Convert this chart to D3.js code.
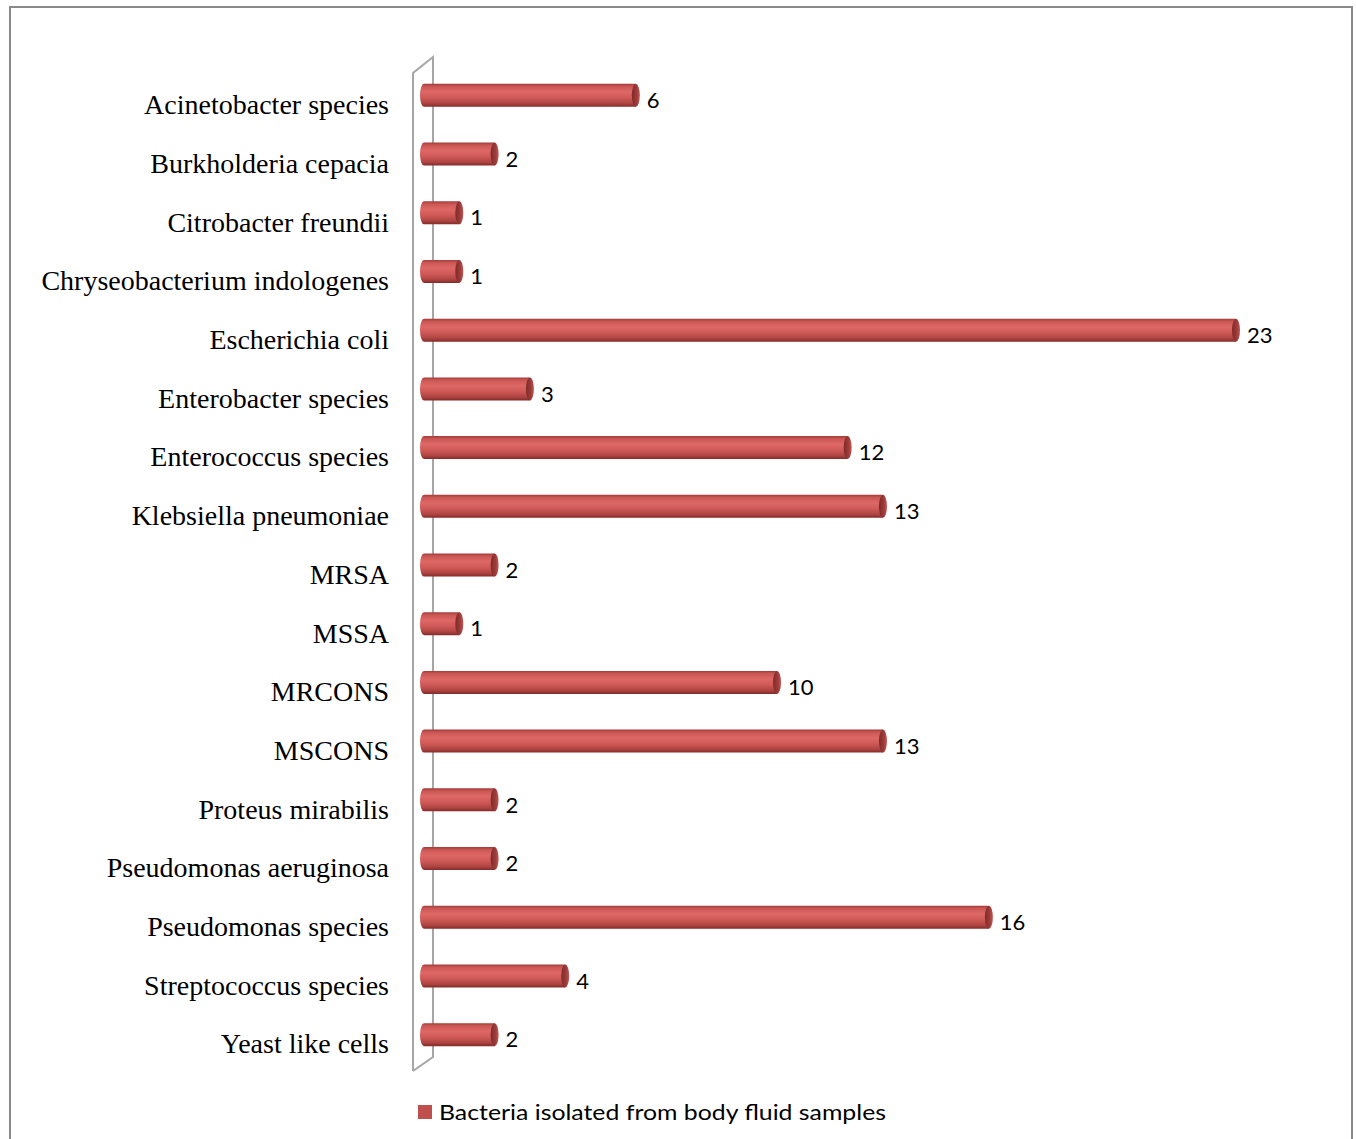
<!DOCTYPE html>
<html><head><meta charset="utf-8">
<script src="https://cdn.jsdelivr.net/npm/d3@7"></script>
<style>body{margin:0;background:#fff}svg{display:block}</style>
</head><body>
<script>
const categories = ["Acinetobacter species","Burkholderia cepacia","Citrobacter freundii","Chryseobacterium indologenes","Escherichia coli","Enterobacter species","Enterococcus species","Klebsiella pneumoniae","MRSA","MSSA","MRCONS","MSCONS","Proteus mirabilis","Pseudomonas aeruginosa","Pseudomonas species","Streptococcus species","Yeast like cells"];
const values = [6,2,1,1,23,3,12,13,2,1,10,13,2,2,16,4,2];
const seriesName = "Bacteria isolated from body fluid samples";

const W = 1356, H = 1139;
const svg = d3.select("body").append("svg").attr("width", W).attr("height", H);

// outer frame
svg.append("rect").attr("x",10).attr("y",7).attr("width",1342).attr("height",1150)
  .attr("fill","none").attr("stroke","#8a8a8a").attr("stroke-width",2);

const x = d3.scaleLinear().domain([0, 23]).range([424, 1236]);
const y = d3.scaleBand().domain(categories).range([66, 1064]).paddingInner(0.6).paddingOuter(0.3);

const defs = svg.append("defs");
const g = defs.append("linearGradient").attr("id","barGrad").attr("x1",0).attr("y1",0).attr("x2",0).attr("y2",1);
[[0,"#a23c3a"],[0.12,"#cb5754"],[0.35,"#dd6865"],[0.6,"#d05a57"],[0.85,"#ae4442"],[1,"#832b29"]]
  .forEach(([o,c])=>g.append("stop").attr("offset",o).attr("stop-color",c));
const gc = defs.append("linearGradient").attr("id","capGrad").attr("x1",0).attr("y1",0).attr("x2",1).attr("y2",0);
[[0,"#7e2a28"],[0.6,"#9c3c3a"],[1,"#c35653"]].forEach(([o,c])=>gc.append("stop").attr("offset",o).attr("stop-color",c));

// 3D wall (axis)
const wall = svg.append("g").attr("fill","none").attr("stroke","#a6a6a6").attr("stroke-width",2);
wall.append("path").attr("d", `M413,1071 L413,73 L433,57 L433,1057 L413,1071`);

// bars
const bh = 23;
const bars = svg.append("g");
categories.forEach((c,i)=>{
  const cy = y(c) + y.bandwidth()/2;
  const x0 = x(0) - 4, x1 = x(values[i]);
  const gr = bars.append("g");
  gr.append("path")
    .attr("d", `M${x0+4},${cy-bh/2} L${x1},${cy-bh/2} L${x1},${cy+bh/2} L${x0+4},${cy+bh/2} A4,${bh/2} 0 0 1 ${x0+4},${cy-bh/2} Z`)
    .attr("fill","url(#barGrad)");
  gr.append("ellipse").attr("cx", x1).attr("cy", cy).attr("rx", 4).attr("ry", bh/2)
    .attr("fill","url(#capGrad)");
  svg.append("text").attr("x", x1 + 11).attr("y", cy + 5).attr("dy","0.35em")
    .attr("font-family","Lato, 'Open Sans', sans-serif").attr("font-size",22).attr("fill","#000")
    .text(values[i]);
  svg.append("text").attr("x", 389).attr("y", cy + 9).attr("dy","0.35em").attr("text-anchor","end")
    .attr("font-family","'Liberation Serif', 'Times New Roman', serif").attr("font-size",28).attr("fill","#000")
    .text(c);
});

// legend
svg.append("rect").attr("x",418).attr("y",1105).attr("width",14).attr("height",14).attr("fill","#c0504d");
svg.append("text").attr("x",439).attr("y",1112).attr("dy","0.35em")
  .attr("font-family","Lato, 'Open Sans', sans-serif").attr("font-size",22).attr("fill","#000")
  .attr("textLength",447).attr("lengthAdjust","spacingAndGlyphs")
  .text(seriesName);
</script>
</body></html>
